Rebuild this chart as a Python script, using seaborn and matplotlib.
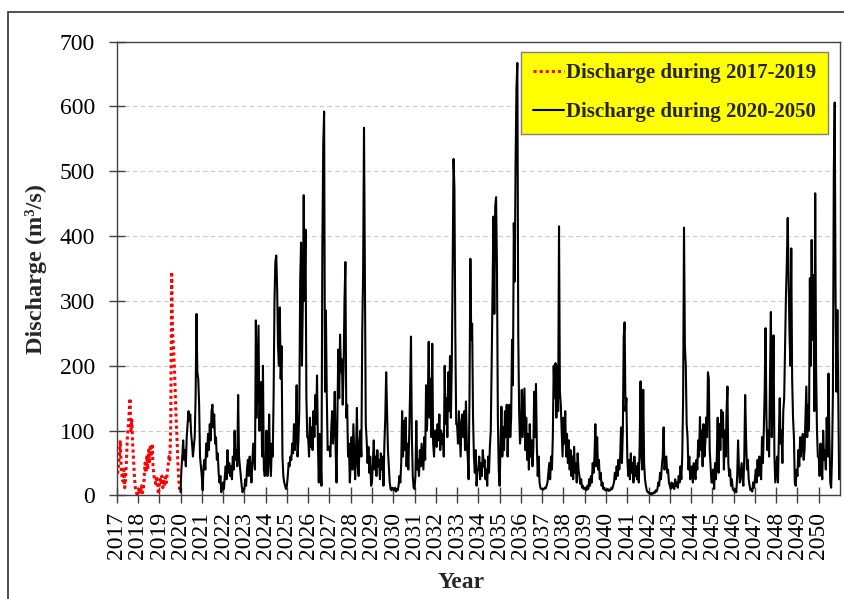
import matplotlib
matplotlib.use("Agg")
import matplotlib.pyplot as plt
import seaborn as sns
import pandas as pd
from matplotlib.patches import Rectangle

# ---- observed discharge 2017-2019 (semi-monthly readings, m3/s) ----
r2017 = [40, 32, 48, 62, 85, 45, 30, 22, 40, 12, 25, 55, 88, 105, 125, 150, 100, 118, 80, 55, 30, 12, 5, 2]
r2018 = [3, 12, 2, 5, 15, 4, 8, 28, 50, 35, 62, 40, 70, 52, 78, 60, 80, 45, 30, 25, 18, 30, 22, 2]
r2019 = [15, 25, 18, 30, 12, 22, 15, 28, 20, 35, 45, 60, 55, 110, 345, 250, 230, 200, 160, 120, 90, 50, 25, 8]

# ---- projected discharge 2020-2050 (semi-monthly readings, m3/s) ----
q2020 = [5, 40, 60, 85, 55, 70, 45, 90, 110, 130, 115, 125, 95, 80, 60, 75, 90, 150, 280, 190, 180, 140, 60, 45]
q2021 = [30, 8, 45, 55, 40, 80, 60, 95, 70, 110, 85, 130, 140, 105, 125, 80, 90, 55, 65, 35, 20, 30, 5, 15]
q2022 = [20, 10, 30, 45, 25, 70, 35, 50, 30, 45, 25, 60, 40, 100, 55, 70, 45, 155, 60, 45, 30, 15, 5, 10]
q2023 = [10, 25, 15, 40, 55, 30, 60, 45, 20, 50, 80, 60, 40, 270, 120, 190, 262, 100, 150, 175, 60, 200, 40, 30]
q2024 = [40, 100, 30, 55, 125, 50, 30, 80, 60, 150, 300, 360, 370, 320, 230, 200, 290, 180, 230, 60, 30, 20, 15, 10]
q2025 = [15, 30, 50, 45, 60, 55, 80, 65, 110, 70, 95, 170, 60, 85, 130, 330, 390, 200, 300, 463, 300, 410, 150, 90]
q2026 = [90, 60, 120, 75, 105, 70, 130, 90, 155, 110, 185, 80, 20, 95, 60, 15, 380, 540, 592, 160, 285, 155, 70, 75]
q2027 = [75, 60, 100, 130, 80, 110, 160, 70, 20, 120, 225, 150, 248, 190, 210, 140, 200, 300, 360, 120, 140, 60, 80, 20]
q2028 = [50, 90, 40, 110, 70, 25, 65, 135, 45, 30, 85, 100, 60, 250, 345, 567, 345, 110, 85, 50, 75, 35, 60, 15]
q2029 = [20, 50, 85, 40, 60, 30, 70, 45, 55, 25, 65, 40, 60, 15, 80, 120, 190, 130, 70, 45, 20, 10, 8, 12]
q2030 = [10, 8, 12, 6, 10, 8, 15, 30, 20, 50, 130, 60, 115, 70, 120, 45, 80, 40, 95, 160, 245, 90, 30, 12]
q2031 = [10, 30, 115, 40, 55, 30, 70, 45, 80, 60, 40, 90, 55, 170, 100, 150, 237, 120, 180, 90, 234, 80, 60, 100]
q2032 = [100, 75, 110, 85, 125, 70, 100, 80, 95, 60, 200, 110, 150, 90, 190, 130, 215, 120, 200, 350, 519, 474, 250, 110]
q2033 = [110, 80, 130, 95, 60, 115, 125, 90, 130, 70, 145, 80, 60, 25, 150, 365, 240, 265, 120, 60, 35, 70, 15, 40]
q2034 = [40, 60, 25, 50, 30, 70, 45, 55, 25, 40, 15, 60, 35, 75, 100, 200, 317, 430, 280, 445, 460, 350, 120, 40]
q2035 = [15, 80, 137, 60, 105, 70, 130, 90, 140, 60, 110, 140, 90, 120, 240, 170, 420, 330, 513, 629, 667, 250, 130, 80]
q2036 = [100, 163, 90, 130, 165, 70, 120, 55, 95, 40, 110, 60, 85, 45, 70, 160, 90, 172, 75, 30, 60, 20, 12, 10]
q2037 = [10, 9, 10, 12, 11, 15, 20, 35, 50, 25, 60, 40, 90, 200, 150, 204, 120, 200, 130, 415, 160, 140, 100, 60]
q2038 = [120, 80, 130, 60, 95, 50, 85, 40, 70, 30, 60, 25, 75, 35, 50, 20, 65, 40, 30, 18, 25, 12, 15, 10]
q2039 = [10, 12, 8, 15, 10, 25, 15, 30, 20, 50, 35, 60, 110, 45, 90, 40, 55, 25, 35, 15, 20, 10, 12, 8]
q2040 = [8, 8, 10, 7, 9, 8, 12, 10, 15, 20, 35, 25, 45, 30, 55, 40, 60, 105, 50, 100, 245, 267, 130, 150]
q2041 = [60, 30, 55, 25, 65, 35, 50, 20, 60, 30, 45, 25, 50, 20, 80, 176, 60, 40, 163, 50, 25, 15, 8, 5]
q2042 = [5, 3, 2, 4, 2, 3, 5, 4, 8, 6, 10, 20, 15, 35, 25, 45, 60, 105, 40, 55, 60, 35, 40, 20]
q2043 = [15, 10, 20, 12, 18, 10, 25, 15, 20, 12, 30, 20, 45, 25, 60, 150, 413, 230, 200, 110, 90, 40, 60, 25]
q2044 = [30, 45, 20, 50, 35, 25, 55, 40, 85, 60, 121, 70, 100, 45, 110, 60, 80, 120, 90, 190, 180, 70, 45, 20]
q2045 = [20, 40, 10, 50, 25, 60, 120, 35, 110, 70, 132, 90, 128, 40, 100, 60, 130, 168, 50, 30, 40, 15, 25, 10]
q2046 = [8, 6, 10, 5, 30, 85, 40, 20, 35, 50, 25, 15, 60, 155, 90, 40, 55, 25, 15, 8, 10, 6, 20, 12]
q2047 = [25, 40, 20, 55, 30, 60, 45, 25, 90, 50, 100, 160, 258, 120, 70, 100, 60, 180, 283, 90, 140, 247, 60, 20]
q2048 = [40, 60, 20, 90, 150, 80, 100, 50, 130, 150, 230, 307, 360, 428, 340, 250, 200, 381, 180, 120, 90, 20, 15, 40]
q2049 = [30, 70, 45, 90, 60, 80, 95, 55, 70, 120, 168, 90, 140, 100, 335, 200, 394, 240, 340, 130, 466, 200, 100, 60]
q2050 = [60, 30, 80, 40, 25, 100, 55, 70, 40, 120, 60, 188, 90, 20, 12, 60, 160, 500, 606, 300, 160, 286, 150, 25]

red_years = [2017, 2018, 2019]
red_blocks = [r2017, r2018, r2019]
black_years = list(range(2020, 2051))
black_blocks = [q2020, q2021, q2022, q2023, q2024, q2025, q2026, q2027, q2028, q2029,
                q2030, q2031, q2032, q2033, q2034, q2035, q2036, q2037, q2038, q2039,
                q2040, q2041, q2042, q2043, q2044, q2045, q2046, q2047, q2048, q2049, q2050]
tick_years = list(range(2017, 2051))
label_red = "Discharge during 2017-2019"
label_black = "Discharge during 2020-2050"


def build(years, blocks):
    t, v = [], []
    for y, b in zip(years, blocks):
        n = len(b)
        for i, val in enumerate(b):
            t.append(y + i / n)
            v.append(val)
    return pd.DataFrame({"year": t, "discharge": v})


red_df = build(red_years, red_blocks)
black_df = build(black_years, black_blocks)

sns.set_style("ticks")
plt.rcParams["font.family"] = ["Liberation Serif", "DejaVu Serif"]

fig = plt.figure(figsize=(8.45, 5.99), dpi=100)
ax = fig.add_axes([0.1381, 0.1728, 0.8560, 0.7579])

sns.lineplot(data=red_df, x="year", y="discharge", ax=ax, color="red",
             linewidth=2.2, label=label_red)
sns.lineplot(data=black_df, x="year", y="discharge", ax=ax, color="black",
             linewidth=1.5, label=label_black)
ax.lines[0].set_linestyle((0, (1, 1)))

ax.set_xlim(2017, 2051)
ax.set_ylim(0, 700)
ax.set_xticks(tick_years)
ax.set_xticklabels([str(y) for y in tick_years], rotation=90)
ax.set_yticks(range(0, 800, 100))

ax.grid(axis="y", color="#c8c8c8", linestyle=(0, (4, 3)), linewidth=0.8)
ax.set_axisbelow(True)

for s in ax.spines.values():
    s.set_visible(True)
    s.set_color("#404040")
    s.set_linewidth(1.0)

ax.tick_params(axis="both", direction="inout", length=11.5, width=1.0,
               color="#404040", labelcolor="black", labelsize=17)
ax.tick_params(axis="x", pad=5.8)
ax.tick_params(axis="y", pad=9.8)

ax.set_ylabel("Discharge (m³/s)", fontsize=17.5, fontweight="bold")
ax.yaxis.set_label_coords(-0.096, 0.5)
ax.set_xlabel("Year", fontsize=17, fontweight="bold")
ax.xaxis.set_label_coords(0.476, -0.1685)

leg = ax.legend(loc="upper right", bbox_to_anchor=(0.9834, 0.9769),
                frameon=True, fancybox=False, facecolor="yellow",
                edgecolor="#808080", framealpha=1,
                prop=dict(family="Liberation Serif", weight="bold", size=15),
                handlelength=1.5, handletextpad=0.12, labelspacing=0.9,
                borderpad=0.55, borderaxespad=0)
leg.get_frame().set_linewidth(1.0)

fig.patches.append(Rectangle((8 / 845, -0.02), 1.0, 0.98 + 0.02,
                             transform=fig.transFigure, fill=False,
                             edgecolor="#303030", linewidth=1.2,
                             clip_on=False))

fig.savefig("out.png", dpi=100)
